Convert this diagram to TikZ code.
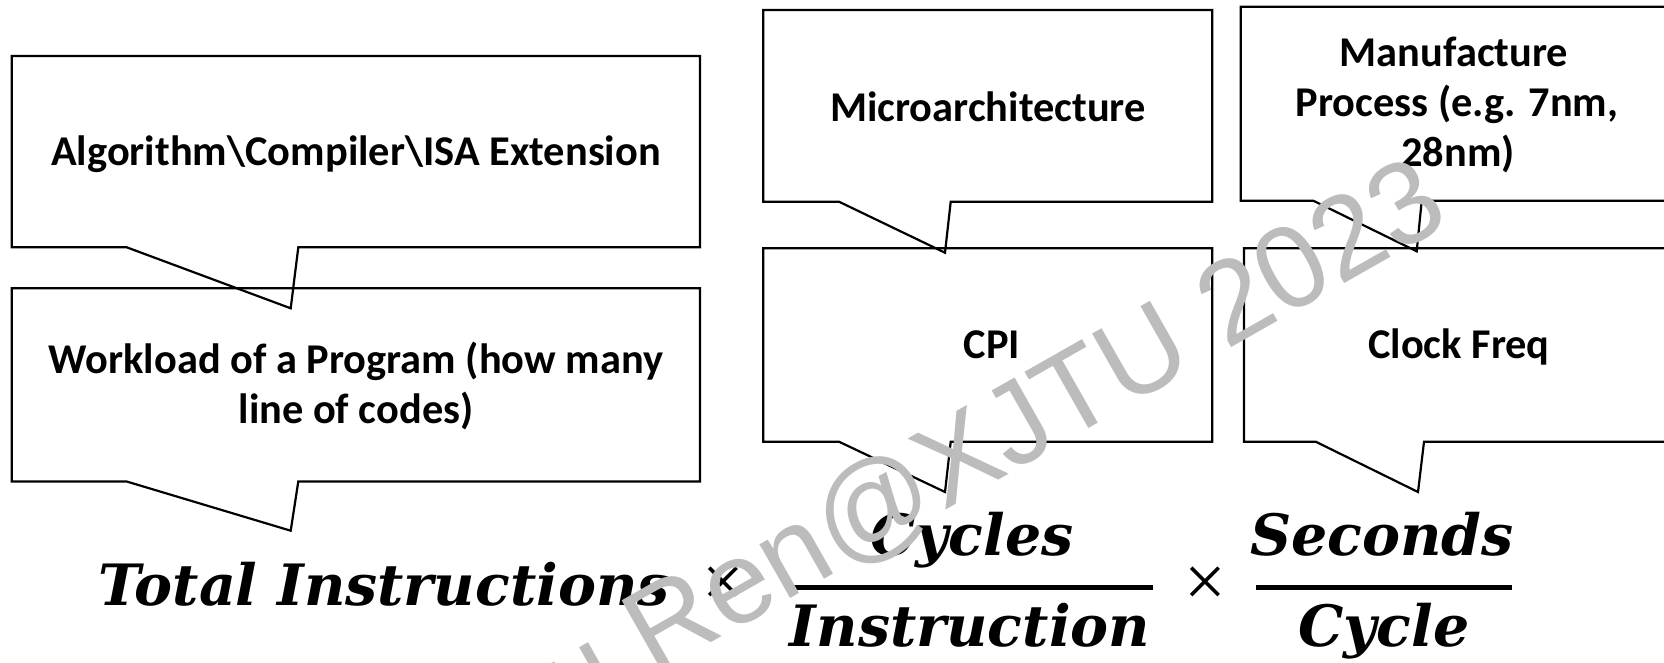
\documentclass[tikz,border=0pt]{standalone}
\usepackage{fontspec}
\setmainfont{Carlito}
\newfontfamily\formfont{DejaVu Serif}
\newfontfamily\crossfont{Liberation Serif}
\newfontfamily\wmfont{Liberation Sans}
\definecolor{wmgray}{RGB}{188,188,188}
\tikzset{
  callout/.style={draw=black, line width=2.2pt, line join=miter},
  lbl/.style={font=\fontsize{42.4}{50}\selectfont\bfseries, anchor=base, inner sep=0pt},
  frm/.style={font=\fontsize{57}{57}\selectfont\formfont\bfseries\itshape, anchor=base, inner sep=0pt},
  fracbar/.style={line width=5pt},
  timessign/.style={font=\fontsize{74}{74}\selectfont\crossfont, inner sep=0pt},
  wm/.style={text=wmgray, font=\fontsize{117}{117}\selectfont\wmfont, rotate=29.6, anchor=base east, inner sep=0pt}
}
\begin{document}
\begin{tikzpicture}[x=1pt,y=-1pt]
\useasboundingbox (0,0) rectangle (1664,662);
\fill[white] (0,0) rectangle (1664,662);
\clip (0,0) rectangle (1664,662);

% callouts
\draw[callout] (11.7,56) -- (700,56) -- (700,247.3) -- (298.3,247.3) -- (290.7,308.3) -- (126.7,247.3) -- (11.7,247.3) -- cycle;
\draw[callout] (11.7,288.3) -- (700,288.3) -- (700,481.5) -- (298.3,481.5) -- (290.7,530.7) -- (126.7,481.5) -- (11.7,481.5) -- cycle;
\draw[callout] (763.3,10) -- (1212.3,10) -- (1212.3,201.7) -- (950.7,201.7) -- (945,252.7) -- (839,201.7) -- (763.3,201.7) -- cycle;
\draw[callout] (763.3,248.3) -- (1212.3,248.3) -- (1212.3,441.7) -- (950.7,441.7) -- (945,492) -- (839,441.7) -- (763.3,441.7) -- cycle;
\draw[callout] (1240.7,6.7) -- (1680,6.7) -- (1680,200.7) -- (1421.7,200.7) -- (1416.7,251.3) -- (1313.3,200.7) -- (1240.7,200.7) -- cycle;
\draw[callout] (1244,248.3) -- (1680,248.3) -- (1680,441.7) -- (1424,441.7) -- (1418,492) -- (1315.7,441.7) -- (1244,441.7) -- cycle;

% labels
\node[lbl] (alg) at (356,165) {Algorithm\textbackslash Compiler\textbackslash ISA Extension};
\node[lbl] (work1) at (356,373.5) {Workload of a Program (how many};
\node[lbl] (work2) at (356,423.5) {line of codes)};
\node[lbl] (micro) at (988,121.5) {Microarchitecture};
\node[lbl] (cpi) at (992,358.3) {CPI};
\node[lbl] (manu1) at (1454,66.7) {Manufacture};
\node[lbl] (manu2) at (1457,116.7) {Process (e.g. 7nm,};
\node[lbl] (manu3) at (1458,166.7) {28nm)};
\node[lbl] (clk) at (1459,358.3) {Clock Freq};

% formula
\node[frm] (total) at (384.2,605) {Total Instructions};
\node[timessign] (x1) at (723,587) {×};
\draw[fracbar] (788,587.3) -- (1153,587.3);
\node[frm] (cyc) at (972,555) {Cycles};
\node[frm] (instr) at (970,646.7) {Instruction};
\node[timessign] (x2) at (1205.7,587) {×};
\draw[fracbar] (1255.7,587.3) -- (1512.3,587.3);
\node[frm] (sec) at (1382,555) {Seconds};
\node[frm] (cycle) at (1384,646.7) {Cycle};

% watermark
\node[wm] (wmark) at (1453,222) {u Ren@XJTU 2023};
\end{tikzpicture}
\end{document}
